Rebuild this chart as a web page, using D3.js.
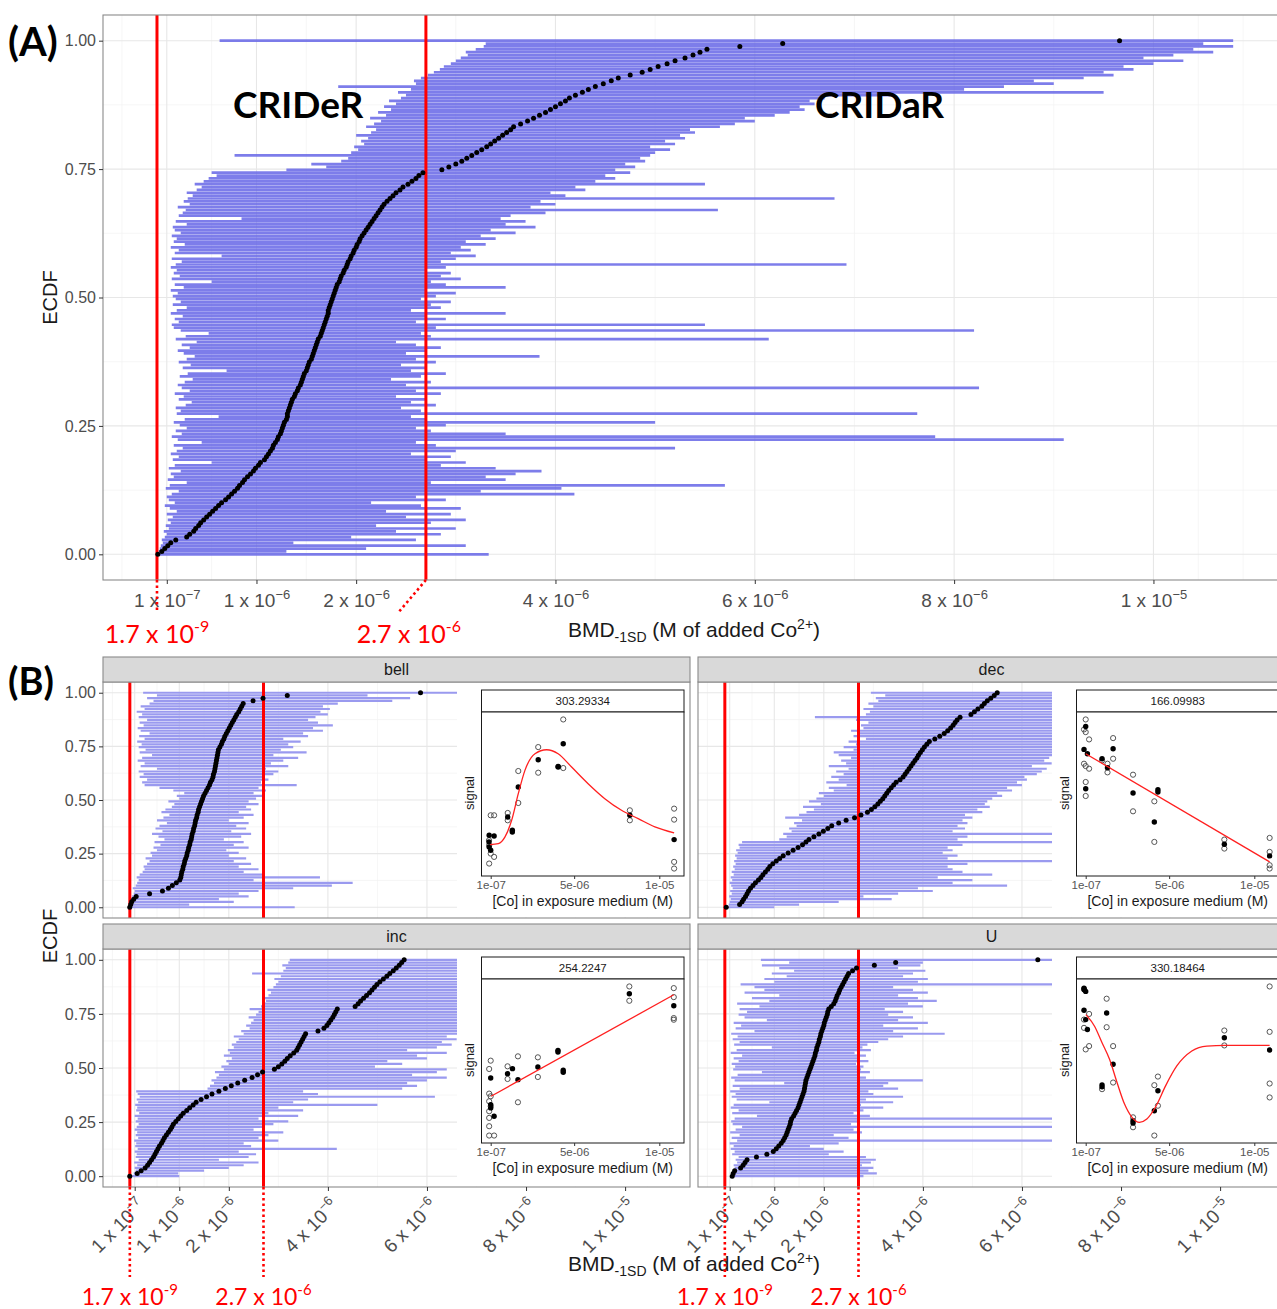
<!DOCTYPE html>
<html>
<head>
<meta charset="utf-8">
<title>ECDF of BMD-1SD for cobalt</title>
<script src="https://cdn.jsdelivr.net/npm/d3@7/dist/d3.min.js"></script>
<style>
  html, body { margin: 0; padding: 0; background: #fff; }
  svg { display: block; }
</style>
</head>
<body>
<svg id="chart" width="1277" height="1309"></svg>
<script>
// All BMD, bound and concentration arrays are in µM (1e-6 M).
const UNIT = 1e-6;

const bmdTicks = [1e-7, 1e-6, 2e-6, 4e-6, 6e-6, 8e-6, 1e-5];
const ecdfTicks = [0, 0.25, 0.5, 0.75, 1];
const doseTicks = [1e-7, 5e-6, 1e-5];
const thresholds = [1.7e-9, 2.7e-6];
const regionLabels = ['CRIDeR', 'CRIDaR'];
const facetNames = ['bell', 'dec', 'inc', 'U'];
const fitStats = ['303.29334', '166.09983', '254.2247', '330.18464'];

// ---- Panel A: all genes, rows ordered by BMD ----
const allBmd = [
  0.01,0.05,0.08,0.11,0.14,0.19,0.30,0.33,0.37,0.39,
  0.42,0.44,0.47,0.50,0.53,0.56,0.59,0.62,0.65,0.69,
  0.72,0.75,0.78,0.81,0.83,0.86,0.88,0.91,0.94,0.97,
  0.99,1.02,1.04,1.08,1.10,1.12,1.14,1.16,1.17,1.19,
  1.21,1.22,1.24,1.25,1.26,1.27,1.28,1.30,1.31,1.31,
  1.32,1.33,1.34,1.35,1.36,1.38,1.39,1.41,1.42,1.44,
  1.45,1.46,1.47,1.48,1.50,1.51,1.52,1.53,1.55,1.56,
  1.57,1.58,1.59,1.60,1.61,1.62,1.64,1.65,1.66,1.67,
  1.68,1.69,1.70,1.71,1.72,1.72,1.73,1.74,1.75,1.76,
  1.77,1.78,1.79,1.80,1.81,1.83,1.84,1.85,1.87,1.88,
  1.90,1.91,1.92,1.94,1.95,1.97,1.98,2.00,2.01,2.03,
  2.04,2.06,2.08,2.10,2.12,2.14,2.16,2.18,2.20,2.22,
  2.24,2.26,2.28,2.31,2.34,2.37,2.40,2.44,2.47,2.52,
  2.56,2.60,2.63,2.67,2.86,2.93,3.00,3.06,3.11,3.16,
  3.21,3.26,3.31,3.35,3.39,3.43,3.47,3.51,3.55,3.58,
  3.65,3.72,3.78,3.84,3.90,3.95,4.00,4.05,4.10,4.14,
  4.20,4.27,4.33,4.40,4.48,4.56,4.63,4.75,4.87,4.95,
  5.03,5.12,5.20,5.30,5.38,5.45,5.52,5.85,6.28,9.66
];
const allLow = [
  0.00,0.02,0.03,0.04,0.06,0.05,0.08,0.10,0.07,0.12,
  0.09,0.14,0.11,0.16,0.10,0.20,0.13,0.08,0.18,0.12,
  0.10,0.15,0.22,0.09,0.13,0.30,0.11,0.17,0.14,0.24,
  0.12,0.18,0.55,0.16,0.22,0.14,0.20,0.26,0.17,0.45,
  0.21,0.15,0.25,0.19,0.30,0.23,0.17,0.28,0.62,0.20,
  0.24,0.19,0.29,0.35,0.22,0.27,0.18,0.33,0.25,0.21,
  0.28,0.36,0.23,0.31,0.70,0.26,0.34,0.22,0.30,0.38,
  0.27,0.21,0.33,0.25,0.40,0.19,0.29,0.52,0.24,0.17,
  0.15,0.22,0.18,0.26,0.14,0.20,0.30,0.16,0.24,0.19,
  0.16,0.21,0.14,0.27,0.18,0.55,0.15,0.23,0.17,0.20,
  0.14,0.19,0.25,0.15,0.65,0.18,0.22,0.14,0.28,0.17,
  0.20,0.15,0.24,0.18,0.16,0.30,0.19,0.85,0.22,0.26,
  0.29,0.21,0.33,0.27,0.31,0.36,0.30,0.40,0.45,0.38,
  0.47,0.52,0.60,0.55,1.30,1.70,1.55,1.85,1.92,0.78,
  1.95,2.02,1.98,2.08,2.05,2.12,2.00,2.15,2.20,2.10,
  2.18,2.25,2.14,2.30,2.22,2.35,2.28,2.40,2.33,2.45,
  2.50,2.42,2.55,1.82,2.60,2.58,2.65,2.72,2.78,2.84,
  2.88,2.95,3.00,3.05,3.12,3.10,3.20,3.28,3.30,0.63
];
const allHigh = [
  3.33,1.30,2.10,3.10,1.37,2.60,1.95,2.85,2.40,3.00,
  2.20,2.75,3.10,2.50,2.95,2.30,3.05,2.65,2.15,2.90,
  2.60,4.19,3.25,4.06,5.70,2.75,3.50,3.30,3.60,3.86,
  3.40,2.85,3.10,2.70,2.95,2.55,3.00,5.20,2.80,2.60,
  9.10,7.81,3.50,2.75,2.60,2.90,5.00,2.70,2.55,7.63,
  2.65,2.45,2.80,2.55,2.70,2.40,2.85,2.60,8.25,2.50,
  2.75,2.35,2.65,2.90,2.55,2.70,2.45,2.80,2.60,3.84,
  2.50,2.70,2.85,2.60,2.40,6.14,2.75,2.65,8.20,2.80,
  5.50,2.60,2.90,2.70,3.50,2.55,2.85,2.75,2.95,2.65,
  2.80,3.00,2.70,3.50,2.90,2.75,3.05,2.85,2.95,2.70,
  2.90,6.92,2.85,3.00,3.20,2.95,3.15,3.05,3.30,3.10,
  3.40,3.25,3.60,3.35,3.80,3.50,3.70,3.45,3.55,3.90,
  5.63,3.75,4.00,3.85,6.80,4.10,3.95,4.30,4.20,5.50,
  4.40,4.60,4.50,4.75,4.60,4.80,4.70,4.90,4.85,4.95,
  5.00,5.15,4.95,5.20,5.10,5.30,5.25,5.40,5.35,5.65,
  5.80,6.00,5.90,6.20,6.35,6.50,6.45,6.60,6.55,6.70,
  7.40,9.50,8.10,8.50,9.00,8.80,9.30,9.60,9.50,9.80,
  9.70,10.0,10.3,9.90,10.2,10.6,10.4,10.8,10.5,10.8
];

// ---- Panel B: genes by best-fit model shape ----
const bellBmd = [
  0.00,0.02,0.04,0.08,0.13,0.40,0.66,0.78,0.86,0.94,
  1.01,1.03,1.04,1.05,1.07,1.08,1.10,1.11,1.13,1.15,
  1.16,1.18,1.19,1.21,1.22,1.24,1.25,1.26,1.28,1.29,
  1.31,1.32,1.33,1.35,1.36,1.38,1.39,1.41,1.43,1.45,
  1.47,1.49,1.52,1.55,1.58,1.61,1.63,1.66,1.68,1.69,
  1.71,1.72,1.73,1.74,1.75,1.76,1.77,1.78,1.79,1.82,
  1.85,1.87,1.90,1.92,1.95,1.98,2.01,2.04,2.07,2.10,
  2.13,2.16,2.20,2.23,2.26,2.29,2.49,2.69,3.18,5.87
];
const bellLow = [
  0.00,0.01,0.02,0.03,0.05,0.08,0.10,0.06,0.12,0.15,
  0.18,0.14,0.20,0.26,0.30,0.28,0.35,0.40,0.32,0.45,
  0.42,0.55,0.48,0.62,0.50,0.70,0.58,0.45,0.66,0.52,
  0.60,0.75,0.55,0.68,0.80,0.64,0.72,0.85,0.90,0.78,
  1.00,0.95,1.10,0.88,0.60,0.30,0.25,0.35,0.20,0.28,
  0.18,0.55,0.22,0.30,0.16,0.25,0.45,0.20,0.32,0.18,
  0.24,0.15,0.30,0.19,0.40,0.22,0.16,0.28,0.20,0.35,
  0.18,0.25,0.14,0.30,0.22,0.40,0.48,0.35,0.55,0.27
];
const bellHigh = [
  3.33,1.20,2.10,1.80,2.40,2.20,2.60,3.30,4.08,4.50,
  2.50,3.84,2.70,2.30,2.60,2.20,2.45,2.10,2.35,2.00,
  2.20,1.95,2.40,2.10,2.30,1.90,2.25,2.45,2.05,2.35,
  2.15,2.40,2.00,2.30,2.50,2.20,2.45,2.35,2.60,2.40,
  2.55,2.70,2.50,2.75,2.60,3.37,2.65,2.80,2.70,2.90,
  3.00,2.75,3.20,2.85,3.10,3.40,2.90,3.57,3.05,3.30,
  3.20,3.45,3.10,3.60,3.50,3.90,3.70,4.10,3.80,3.60,
  3.75,4.00,3.85,4.04,3.90,4.20,5.30,5.66,4.80,7.00
];

const decBmd = [
  0.03,0.30,0.35,0.38,0.42,0.45,0.48,0.52,0.57,0.62,
  0.68,0.73,0.77,0.82,0.87,0.91,0.97,1.04,1.11,1.18,
  1.28,1.38,1.48,1.57,1.64,1.70,1.80,1.90,1.99,2.08,
  2.16,2.30,2.45,2.62,2.75,2.88,2.96,3.03,3.09,3.14,
  3.19,3.23,3.27,3.31,3.36,3.41,3.46,3.54,3.60,3.64,
  3.68,3.72,3.76,3.80,3.84,3.88,3.91,3.95,3.99,4.03,
  4.08,4.13,4.24,4.34,4.43,4.50,4.56,4.61,4.65,4.69,
  4.75,4.97,5.04,5.11,5.19,5.24,5.30,5.37,5.44,5.50
];
const decLow = [
  0.00,0.08,0.10,0.12,0.09,0.14,0.11,0.16,0.13,0.10,
  0.15,0.12,0.18,0.14,0.20,0.17,0.22,0.19,0.24,0.21,
  0.26,0.23,0.30,0.28,0.35,1.10,1.25,1.18,1.35,1.30,
  1.45,1.40,1.56,1.22,1.50,1.65,1.80,1.58,1.94,1.70,
  1.85,2.00,1.90,2.20,2.10,2.46,2.05,2.30,2.15,2.40,
  2.25,2.50,2.10,2.45,2.35,2.55,2.30,2.20,2.60,2.40,
  2.65,2.50,2.85,2.60,2.70,2.55,2.80,2.75,2.90,2.65,
  1.82,2.85,2.93,2.80,3.00,2.90,3.10,3.05,3.24,2.95
];
const decHigh = [
  1.00,1.50,2.30,3.37,2.80,3.50,4.20,3.90,5.70,4.60,
  5.00,4.30,5.40,4.80,4.60,4.50,4.90,7.50,4.50,4.70,
  4.40,4.60,4.50,4.80,7.50,4.70,4.90,7.50,4.60,4.85,
  4.70,4.90,4.80,5.00,4.85,5.20,5.10,5.35,5.25,5.30,
  5.40,5.60,5.50,5.80,5.70,6.00,5.90,6.10,6.05,6.30,
  6.40,6.50,6.20,6.60,6.45,6.55,7.00,7.50,7.20,7.80,
  7.50,8.00,7.80,8.20,8.00,8.50,8.30,8.60,8.40,8.80,
  8.50,9.00,8.80,9.20,9.00,9.40,9.10,9.50,9.30,9.60
];

const incBmd = [
  0.00,0.15,0.23,0.31,0.36,0.40,0.44,0.48,0.51,0.54,
  0.57,0.60,0.64,0.67,0.70,0.74,0.78,0.82,0.85,0.88,
  0.93,0.98,1.03,1.08,1.15,1.21,1.28,1.34,1.44,1.55,
  1.66,1.80,1.93,2.05,2.18,2.32,2.47,2.58,2.68,2.92,
  3.00,3.07,3.13,3.18,3.24,3.31,3.37,3.40,3.43,3.46,
  3.49,3.52,3.55,3.80,3.92,3.98,4.02,4.06,4.10,4.13,
  4.16,4.19,4.55,4.61,4.66,4.72,4.78,4.84,4.89,4.94,
  4.99,5.05,5.12,5.19,5.25,5.32,5.38,5.44,5.49,5.54
];
const incLow = [
  0.00,0.08,0.12,0.10,0.15,0.09,0.18,0.12,0.14,0.10,
  0.16,0.11,0.13,0.09,0.17,0.12,0.15,0.10,0.14,0.18,
  0.12,0.16,0.10,0.19,0.13,0.15,0.11,0.17,0.14,0.20,
  0.16,0.13,1.57,1.62,1.70,1.65,1.75,1.80,1.72,1.90,
  1.85,2.00,1.95,2.06,1.90,2.02,1.98,2.10,2.06,2.15,
  2.20,2.10,2.30,2.25,2.42,2.35,2.45,2.50,2.40,2.55,
  2.60,2.42,2.65,2.70,2.75,2.69,2.80,2.85,2.78,2.90,
  2.95,3.00,2.92,3.05,2.47,3.10,3.15,3.08,3.20,3.23
];
const incHigh = [
  1.00,0.98,1.50,2.00,2.30,2.60,1.80,2.40,2.55,2.20,
  4.18,2.45,2.30,3.00,2.60,2.80,3.10,2.50,2.70,2.90,
  3.20,2.60,3.40,2.80,3.50,3.00,5.00,3.30,3.60,6.16,
  3.80,3.50,5.50,5.80,5.60,6.00,6.40,5.70,6.20,6.40,
  4.95,5.50,5.20,6.00,5.80,6.40,5.60,6.20,6.50,6.30,
  6.60,6.40,6.70,7.00,6.80,7.50,7.20,8.00,7.80,8.50,
  8.00,8.50,9.00,8.70,9.20,9.00,9.50,9.30,9.60,9.40,
  9.70,9.50,9.80,9.60,10.0,9.90,10.2,10.0,10.3,10.1
];

const uBmd = [
  0.15,0.17,0.20,0.32,0.37,0.41,0.45,0.64,0.85,0.98,
  1.04,1.09,1.14,1.18,1.21,1.24,1.26,1.28,1.30,1.32,
  1.33,1.35,1.39,1.42,1.45,1.48,1.50,1.52,1.54,1.56,
  1.58,1.60,1.61,1.62,1.63,1.64,1.66,1.68,1.70,1.72,
  1.74,1.76,1.78,1.80,1.82,1.83,1.85,1.86,1.88,1.90,
  1.91,1.93,1.94,1.96,1.98,2.00,2.01,2.03,2.05,2.07,
  2.08,2.10,2.15,2.20,2.23,2.25,2.27,2.30,2.32,2.35,
  2.38,2.41,2.44,2.47,2.50,2.58,2.66,3.02,3.45,6.32
];
const uLow = [
  0.12,0.14,0.16,0.20,0.18,0.25,0.22,0.28,0.15,0.20,
  0.12,0.18,0.10,0.25,0.14,0.30,0.11,0.22,0.35,0.16,
  0.13,0.20,0.65,0.15,0.28,0.12,0.18,0.90,0.24,0.14,
  0.22,0.11,0.30,0.16,1.20,0.20,0.13,0.26,0.75,0.17,
  0.21,0.14,0.28,0.18,0.35,0.12,0.24,0.95,0.19,0.30,
  0.16,0.26,0.13,0.60,0.22,0.33,0.18,0.85,0.40,0.28,
  0.45,0.30,0.70,0.25,0.90,0.55,1.10,0.40,0.80,0.60,
  0.32,1.00,0.80,1.25,0.95,1.40,1.10,0.75,1.30,0.73
];
const uHigh = [
  2.80,3.07,2.90,3.00,2.77,2.95,3.05,2.85,2.10,2.40,
  2.00,1.72,2.30,8.00,2.50,2.20,2.77,2.60,8.00,2.55,
  2.70,8.00,2.93,2.60,2.80,3.20,2.75,3.40,2.85,3.60,
  3.00,2.90,3.50,3.20,3.30,4.00,2.85,2.70,2.93,2.75,
  2.80,2.65,2.90,2.70,2.85,2.62,2.95,2.78,2.88,3.10,
  3.30,3.60,4.44,3.40,3.90,3.20,4.10,3.50,3.80,3.30,
  3.60,3.23,4.00,3.70,4.28,3.90,3.50,4.10,3.80,3.40,
  8.00,3.90,4.10,3.60,3.80,4.05,3.50,3.95,4.00,8.00
];

// ---- Example dose-response curves (one gene per shape) ----
const bellDoseConc = [0.1,0.3,0.001,0.01,0.1,0.3,0.01, 0.01,0.3,0.001,0.01,0.1, 1.1,1.1,1.1, 1.37,1.37, 1.72,1.72,1.72, 2.89,2.89,2.89, 4.06,4.06, 4.36,4.36,4.36, 8.27,8.27,8.27, 10.87,10.87,10.87,10.87,10.87];
const bellDoseSignal = [39,39,24,21,16,14,10, 27,26.6,23,20,18, 40.4,36,38, 30,29, 65.6,46.4,56, 80,64.6,72.4, 68.4,68, 96.6,67.4,82, 42,36,39, 43,36.4,11,7,24.4];
const bellDoseFilled = [0,0,0,0,0,0,0, 1,1,1,1,1, 0,0,1, 1,1, 0,0,1, 0,0,1, 1,1, 0,0,1, 0,0,1, 0,0,0,0,1];
const bellFitConc = [0.06,0.55,0.94,1.33,1.72,2.11,2.70,3.38,4.06,4.85,5.82,6.80,7.78,8.76,9.74,10.87];
const bellFitSignal = [21.4,22,26,36,52,66,76,78.4,76,68,58,49,42,37,32,28.4];

const decDoseConc = [0.1,0.001,0.1,0.3,0.001,0.1,0.3,0.1,0.1, 0.1,0.001,0.2,0.1, 1.06,1.06, 1.38,1.38,1.38, 1.71,1.71,1.71, 2.88,2.88,2.88, 4.13,4.13,4.13, 4.34,4.34, 8.24,8.24,8.24, 10.9,10.9,10.9,10.9,10.9];
const decDoseSignal = [98.6,92.6,91,86.6,72,70.6,69,61,52.6, 94.4,80.6,78,57, 75,74, 72,66.8,69.6, 87.4,75,81, 65.4,43.4,54.4, 49.4,25,37, 56.4,55, 26.4,21,23.6, 27.4,19,11,9,16.6];
const decDoseFilled = [0,0,0,0,0,0,0,0,0, 1,1,1,1, 1,0, 0,0,1, 0,0,1, 0,0,1, 0,0,1, 1,1, 0,0,1, 0,0,0,0,1];
const decFitConc = [0.1, 10.9];
const decFitSignal = [78, 13];

const incDoseConc = [0.1,0.01,0.01,0.1,0.01,0.1,0.01,0.01,0.01,0.01,0.3, 0.1,0.1,0.1,0.3, 1.09,1.09,1.09, 1.38, 1.7,1.7,1.7, 2.87,2.87,2.87, 4.05,4.05, 4.36,4.36, 8.24,8.24,8.24, 10.85,10.85,10.85,10.85,10.85];
const incDoseSignal = [55.4,50.4,35.6,34,31,28,25,21,16,10.4,10.4, 45,29,27,22, 52,44.4,47.6, 50.6, 58,30.4,44, 57.4,45.6,51.6, 61.6,60.6, 49.6,48.4, 100,91.4,95.6, 99,93.6,81,80,88.4];
const incDoseFilled = [0,0,0,0,0,0,0,0,0,0,0, 1,1,1,1, 0,0,1, 1, 0,0,1, 0,0,1, 1,1, 1,1, 0,0,1, 0,0,0,0,1];
const incFitConc = [0.12, 10.85];
const incFitSignal = [34, 95];

const uDoseConc = [0.001,0.01,0.1,0.001,0.1,0.2, 0.001,0.3,0.001,0.001,0.1,0.3, 1.06,1.06,1.06, 1.33,1.33,1.33, 1.71,1.71,1.71, 2.88,2.88,2.88,2.88, 4.13,4.13,4.13, 4.34,4.34,4.34, 8.24,8.24,8.24, 10.9,10.9,10.9,10.9,10.9];
const uDoseSignal = [99,98,97,85.6,80,74, 98.4,83.4,80,75,62,64, 40.6,39.4,38, 92.6,75.4,84, 64,42,53, 21,15,19,17.6, 40.4,10,25, 45.6,28,37, 73.4,64.4,69, 100,72.6,41.4,33,61.6];
const uDoseFilled = [1,1,1,1,1,1, 0,0,0,0,0,0, 1,1,0, 0,0,1, 0,0,1, 0,0,1,1, 0,0,1, 0,0,1, 0,0,1, 0,0,0,0,1];
const uFitConc = [0.11,0.62,1.06,1.50,1.94,2.38,2.82,3.25,3.69,4.24,4.79,5.45,6.33,7.21,8.31,10.9];
const uFitSignal = [83,76,66,56,42,29,21,18,20,28,40,52,61,64,64.4,64.4];

// ---------------------------------------------------------------
const FONT = "'Liberation Sans', Arial, Helvetica, sans-serif";
const NOTE = "Lato, 'Open Sans', 'Liberation Sans', sans-serif";
const RED = '#ff0000';

const svg = d3.select('#chart');
svg.append('rect').attr('width', 1277).attr('height', 1309).attr('fill', '#fff');
const defs = svg.append('defs');

const xDomain = [-0.54e-6, 11.31e-6];
const yDomain = [-0.05, 1.05];

// ggplot-style minor breaks: midpoints, with one extra step beyond the ends
function minorBreaks(major, domain) {
  const b = major.slice();
  const bd = b[1] - b[0];
  if (domain[0] < b[0]) b.unshift(b[0] - bd);
  if (domain[1] > b[b.length - 1]) b.push(b[b.length - 1] + bd);
  const tol = (domain[1] - domain[0]) * 1e-6;
  const out = [];
  for (let i = 0; i < b.length - 1; i++) { out.push(b[i]); out.push((b[i] + b[i + 1]) / 2); }
  out.push(b[b.length - 1]);
  return out.filter(v => v >= domain[0] && v <= domain[1] && !major.some(m => Math.abs(m - v) < tol));
}

// "m x 10^e" label built from a value
function powLabel(sel, v, minus, supSize, supShift) {
  const e = Math.floor(Math.log10(v) + 1e-9);
  const m = +(v / Math.pow(10, e)).toFixed(1);
  sel.text(null);
  sel.append('tspan').text(m + ' x 10');
  sel.append('tspan').attr('font-size', supSize).attr('dy', -supShift)
    .text((e < 0 ? minus : '') + Math.abs(e));
}

function ecdfPanel(o) {
  const x = d3.scaleLinear().domain(xDomain).range([o.left, o.left + o.width]);
  const y = d3.scaleLinear().domain(yDomain).range([o.top + o.height, o.top]);
  const cid = 'clip-' + o.id;
  defs.append('clipPath').attr('id', cid).append('rect')
    .attr('x', o.left).attr('y', o.top).attr('width', o.width).attr('height', o.height);
  const g = svg.append('g');
  const body = g.append('g').attr('clip-path', `url(#${cid})`);
  body.append('rect').attr('x', o.left).attr('y', o.top).attr('width', o.width).attr('height', o.height).attr('fill', '#fff');

  const grid = body.append('g');
  grid.selectAll('line.vmin').data(minorBreaks(bmdTicks, xDomain)).join('line').attr('class', 'vmin')
    .attr('x1', d => x(d)).attr('x2', d => x(d)).attr('y1', o.top).attr('y2', o.top + o.height)
    .attr('stroke', '#f2f2f2').attr('stroke-width', 0.7);
  grid.selectAll('line.hmin').data(minorBreaks(ecdfTicks, yDomain)).join('line').attr('class', 'hmin')
    .attr('x1', o.left).attr('x2', o.left + o.width).attr('y1', d => y(d)).attr('y2', d => y(d))
    .attr('stroke', '#f2f2f2').attr('stroke-width', 0.7);
  grid.selectAll('line.vmaj').data(bmdTicks).join('line').attr('class', 'vmaj')
    .attr('x1', d => x(d)).attr('x2', d => x(d)).attr('y1', o.top).attr('y2', o.top + o.height)
    .attr('stroke', '#e7e7e7').attr('stroke-width', 1.1);
  grid.selectAll('line.hmaj').data(ecdfTicks).join('line').attr('class', 'hmaj')
    .attr('x1', o.left).attr('x2', o.left + o.width).attr('y1', d => y(d)).attr('y2', d => y(d))
    .attr('stroke', '#e7e7e7').attr('stroke-width', 1.1);

  const n = o.bmd.length;
  const rows = o.bmd.map((v, i) => ({ v: v * UNIT, lo: o.low[i] * UNIT, hi: o.high[i] * UNIT, p: i / (n - 1) }));
  body.append('g').selectAll('line').data(rows).join('line')
    .attr('x1', d => x(d.lo)).attr('x2', d => x(d.hi))
    .attr('y1', d => y(d.p)).attr('y2', d => y(d.p))
    .attr('stroke', o.color).attr('stroke-width', o.lineWidth).attr('stroke-opacity', o.opacity);
  body.append('g').selectAll('line').data(thresholds).join('line')
    .attr('x1', d => x(d)).attr('x2', d => x(d)).attr('y1', o.top).attr('y2', o.top + o.height)
    .attr('stroke', RED).attr('stroke-width', 3);
  body.append('g').selectAll('circle').data(rows).join('circle')
    .attr('cx', d => x(d.v)).attr('cy', d => y(d.p)).attr('r', o.dotR).attr('fill', '#000');
  return { g, body, x, y, o };
}

function panelBorder(p) {
  p.g.append('rect').attr('x', p.o.left).attr('y', p.o.top).attr('width', p.o.width).attr('height', p.o.height)
    .attr('fill', 'none').attr('stroke', '#8a8a8a').attr('stroke-width', 1.1);
}

function yAxis(p) {
  const ax = svg.append('g').attr('transform', `translate(${p.o.left},0)`)
    .call(d3.axisLeft(p.y).tickValues(ecdfTicks).tickSize(4).tickPadding(3).tickFormat(d3.format('.2f')));
  ax.select('.domain').remove();
  ax.selectAll('.tick line').attr('stroke', '#333');
  ax.selectAll('.tick text').attr('fill', '#4d4d4d').attr('font-size', 16).attr('font-family', FONT);
}

function xAxis(p, rotated) {
  const ax = svg.append('g').attr('transform', `translate(0,${p.o.top + p.o.height})`)
    .call(d3.axisBottom(p.x).tickValues(bmdTicks).tickSize(4).tickFormat(''));
  ax.select('.domain').remove();
  ax.selectAll('.tick line').attr('stroke', '#333');
  const t = ax.selectAll('.tick text').attr('fill', '#4d4d4d').attr('font-size', 19).attr('font-family', FONT);
  if (rotated) {
    t.attr('x', 0).attr('y', 0).attr('dy', null).attr('text-anchor', 'end')
      .attr('transform', 'translate(11,20) rotate(-45)');
  } else {
    t.attr('y', 27).attr('dy', null);
  }
  t.each(function (d) { powLabel(d3.select(this), d, '\u2212', 13, 8); });
}

function xTitle(cx, baseline) {
  const t = svg.append('text').attr('x', cx).attr('y', baseline).attr('text-anchor', 'middle')
    .attr('font-family', FONT).attr('font-size', 21).attr('fill', '#1a1a1a');
  t.append('tspan').text('BMD');
  t.append('tspan').attr('font-size', 14).attr('dy', 5).text('-1SD');
  t.append('tspan').attr('dy', -5).text(' (M of added Co');
  t.append('tspan').attr('font-size', 14).attr('dy', -8).text('2+');
  t.append('tspan').attr('dy', 8).text(')');
}

function yTitle(cy) {
  svg.append('text').attr('transform', `translate(57,${cy}) rotate(-90)`).attr('text-anchor', 'middle')
    .attr('font-family', FONT).attr('font-size', 20).attr('fill', '#1a1a1a').text('ECDF');
}

function redLabel(x, baseline, v, size) {
  const t = svg.append('text').attr('x', x).attr('y', baseline).attr('text-anchor', 'middle')
    .attr('font-family', NOTE).attr('font-size', size).attr('fill', RED);
  powLabel(t, v, '-', Math.round(size * 0.64), Math.round(size * 0.42));
}

function dotted(x1, y1, x2, y2) {
  svg.append('line').attr('x1', x1).attr('y1', y1).attr('x2', x2).attr('y2', y2)
    .attr('stroke', RED).attr('stroke-width', 2.6).attr('stroke-dasharray', '2.5,3');
}

// Dose-response inset drawn over the right part of a facet
function doseInset(p, d, stat) {
  const L = p.o.left, T = p.o.top, H = p.o.height;
  const g = p.g.append('g');
  g.append('rect').attr('x', L + 354).attr('y', T + 0.5).attr('width', p.o.width - 354).attr('height', H - 1).attr('fill', '#fff');
  const px0 = L + 378.5, px1 = L + 581, py0 = T + 30, py1 = T + 194;
  const xs = d3.scaleLinear().domain([-0.44e-6, 11.45e-6]).range([px0, px1]);
  const [smin, smax] = d3.extent(d.signal.concat(d.fitSignal));
  const pad = (smax - smin) * 0.05;
  const ys = d3.scaleLinear().domain([smin - pad, smax + pad]).range([py1, py0]);

  g.append('rect').attr('x', px0).attr('y', T + 8).attr('width', px1 - px0).attr('height', 22)
    .attr('fill', '#fff').attr('stroke', '#1a1a1a').attr('stroke-width', 1);
  g.append('text').attr('x', (px0 + px1) / 2).attr('y', T + 23).attr('text-anchor', 'middle')
    .attr('font-family', FONT).attr('font-size', 11.5).attr('fill', '#1a1a1a').text(stat);
  g.append('rect').attr('x', px0).attr('y', py0).attr('width', px1 - px0).attr('height', py1 - py0)
    .attr('fill', '#fff').attr('stroke', '#1a1a1a').attr('stroke-width', 1);

  const fmtE = v => v.toExponential().replace(/e([+-])(\d)$/, 'e$10$2');
  const ax = g.append('g').attr('transform', `translate(0,${py1})`)
    .call(d3.axisBottom(xs).tickValues(doseTicks).tickSize(3).tickPadding(2).tickFormat(fmtE));
  ax.select('.domain').remove();
  ax.selectAll('.tick line').attr('stroke', '#333');
  ax.selectAll('.tick text').attr('fill', '#555').attr('font-size', 11.5).attr('font-family', FONT);

  const pts = d.conc.map((c, i) => ({ c: c * UNIT, s: d.signal[i], f: d.filled[i] }));
  g.append('g').selectAll('circle').data(pts.filter(q => !q.f)).join('circle')
    .attr('cx', q => xs(q.c)).attr('cy', q => ys(q.s)).attr('r', 2.6)
    .attr('fill', 'none').attr('stroke', '#555').attr('stroke-width', 1);
  g.append('g').selectAll('circle').data(pts.filter(q => q.f)).join('circle')
    .attr('cx', q => xs(q.c)).attr('cy', q => ys(q.s)).attr('r', 2.7).attr('fill', '#000');
  const fit = d.fitConc.map((c, i) => [c * UNIT, d.fitSignal[i]]);
  g.append('path').datum(fit)
    .attr('d', d3.line().x(q => xs(q[0])).y(q => ys(q[1])).curve(d3.curveMonotoneX))
    .attr('fill', 'none').attr('stroke', '#ff2020').attr('stroke-width', 1.3);

  g.append('text').attr('x', (px0 + px1) / 2).attr('y', T + 224).attr('text-anchor', 'middle')
    .attr('font-family', FONT).attr('font-size', 14).attr('fill', '#1a1a1a').text('[Co] in exposure medium (M)');
  g.append('text').attr('transform', `translate(${L + 371},${T + 111}) rotate(-90)`).attr('text-anchor', 'middle')
    .attr('font-family', FONT).attr('font-size', 13).attr('fill', '#1a1a1a').text('signal');
}

function strip(p, top, name) {
  svg.append('rect').attr('x', p.o.left).attr('y', top).attr('width', p.o.width).attr('height', p.o.top - top)
    .attr('fill', '#d9d9d9').attr('stroke', '#8a8a8a').attr('stroke-width', 1.1);
  svg.append('text').attr('x', p.o.left + p.o.width / 2).attr('y', top + 18).attr('text-anchor', 'middle')
    .attr('font-family', FONT).attr('font-size', 16).attr('fill', '#1a1a1a').text(name);
}

// ---------------- Panel A ----------------
const pA = ecdfPanel({ id: 'A', left: 103, top: 15, width: 1181, height: 565,
  bmd: allBmd, low: allLow, high: allHigh, color: '#6666e6', opacity: 0.85, lineWidth: 2.7, dotR: 2.5 });
panelBorder(pA);
yAxis(pA);
xAxis(pA, false);
yTitle(297.5);
xTitle(694, 637);

svg.append('text').attr('x', 233).attr('y', 118).attr('font-family', NOTE).attr('font-weight', 700)
  .attr('font-size', 37).attr('fill', '#000').text(regionLabels[0]);
svg.append('text').attr('x', 815).attr('y', 118).attr('font-family', NOTE).attr('font-weight', 700)
  .attr('font-size', 37).attr('fill', '#000').text(regionLabels[1]);
svg.append('text').attr('x', 8).attr('y', 56).attr('font-family', NOTE).attr('font-weight', 700)
  .attr('font-size', 40).attr('fill', '#000').text('(A)');

{
  const xa0 = pA.x(thresholds[0]), xa1 = pA.x(thresholds[1]);
  dotted(xa0, 580, xa0, 613);
  dotted(xa1, 580, xa1 - 28, 613);
  redLabel(xa0, 643, thresholds[0], 25);
  redLabel(xa1 - 17, 643, thresholds[1], 25);
}

// ---------------- Panel B ----------------
const facetData = [
  { bmd: bellBmd, low: bellLow, high: bellHigh, left: 103, top: 682, height: 236, stripTop: 657,
    dose: { conc: bellDoseConc, signal: bellDoseSignal, filled: bellDoseFilled, fitConc: bellFitConc, fitSignal: bellFitSignal } },
  { bmd: decBmd, low: decLow, high: decHigh, left: 698, top: 682, height: 236, stripTop: 657,
    dose: { conc: decDoseConc, signal: decDoseSignal, filled: decDoseFilled, fitConc: decFitConc, fitSignal: decFitSignal } },
  { bmd: incBmd, low: incLow, high: incHigh, left: 103, top: 949, height: 238, stripTop: 924,
    dose: { conc: incDoseConc, signal: incDoseSignal, filled: incDoseFilled, fitConc: incFitConc, fitSignal: incFitSignal } },
  { bmd: uBmd, low: uLow, high: uHigh, left: 698, top: 949, height: 238, stripTop: 924,
    dose: { conc: uDoseConc, signal: uDoseSignal, filled: uDoseFilled, fitConc: uFitConc, fitSignal: uFitSignal } }
];

const facets = facetData.map((f, i) => {
  const p = ecdfPanel({ id: 'B' + i, left: f.left, top: f.top, width: 587, height: f.height,
    bmd: f.bmd, low: f.low, high: f.high, color: '#9a9aef', opacity: 1, lineWidth: 2.2, dotR: 2.5 });
  doseInset(p, f.dose, fitStats[i]);
  panelBorder(p);
  strip(p, f.stripTop, facetNames[i]);
  return p;
});
yAxis(facets[0]);
yAxis(facets[2]);
xAxis(facets[2], true);
xAxis(facets[3], true);
yTitle(936);
xTitle(694, 1271);
svg.append('text').attr('x', 8).attr('y', 695).attr('font-family', NOTE).attr('font-weight', 700)
  .attr('font-size', 38).attr('fill', '#000').text('(B)');

[facets[2], facets[3]].forEach(p => {
  thresholds.forEach(t => {
    const xx = p.x(t);
    dotted(xx, 1187, xx, 1277);
    redLabel(xx, 1305, t, 23);
  });
});
</script>
</body>
</html>
